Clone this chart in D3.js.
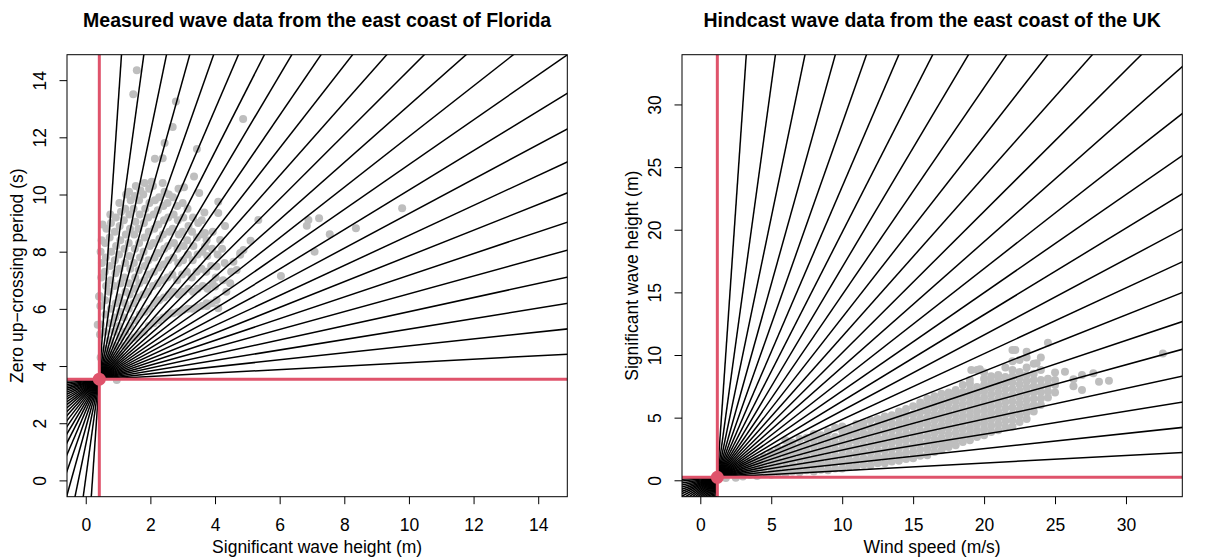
<!DOCTYPE html>
<html>
<head>
<meta charset="utf-8">
<script src="https://cdn.jsdelivr.net/npm/d3@7"></script>
<style>
body{margin:0;background:#fff}
text{font-family:"Liberation Sans",Arial,Helvetica,sans-serif;fill:#000}
</style>
</head>
<body>
<div id="chart"></div>
<script>
// ray directions (degrees, in data units) drawn through each reference point
var rayAngles = [3.46, 6.92, 10.38, 13.85, 17.31, 20.77, 24.23, 27.69, 31.15, 34.62, 38.08, 41.54, 45.0,
                 48.46, 51.92, 55.38, 58.85, 62.31, 65.77, 69.23, 72.69, 76.15, 79.62, 83.08, 86.54];

// Florida: [significant wave height (m), zero up-crossing period (s)]
var floridaPts = [
 [0.46,4.3],[0.44,5.1],[0.47,5.45],[0.45,6.1],[0.43,6.45],[0.48,7.1],[0.5,7.6],[0.46,8.0],[0.52,8.95],[0.49,8.4],[0.41,6.43],[0.37,5.44],
 [0.6,4.0],[0.62,4.6],[0.58,5.2],[0.61,5.8],[0.6,6.3],[0.63,6.8],[0.59,7.3],[0.62,7.8],[0.6,8.3],[0.64,8.8],
 [0.75,3.9],[0.77,4.4],[0.74,4.9],[0.76,5.5],[0.78,6.0],[0.73,6.6],[0.77,7.0],[0.75,7.5],[0.79,8.0],[0.74,8.5],[0.78,9.0],[0.76,9.3],
 [0.9,4.2],[0.92,4.7],[0.88,5.2],[0.91,5.7],[0.93,6.2],[0.89,6.8],[0.92,7.25],[0.9,7.7],[0.94,8.2],[0.9,8.7],[0.93,9.2],[0.96,3.51],
 [1.05,4.4],[1.07,5.0],[1.03,5.4],[1.06,5.9],[1.04,6.4],[1.08,6.9],[1.05,7.4],[1.03,7.9],[1.07,8.4],[1.05,8.9],[1.09,9.4],[1.04,9.7],
 [1.2,4.7],[1.22,5.2],[1.18,5.7],[1.21,6.2],[1.23,6.6],[1.19,7.1],[1.22,7.6],[1.2,8.1],[1.24,8.6],[1.18,9.1],[1.22,9.5],[1.25,10.0],
 [1.35,4.9],[1.37,5.4],[1.33,6.0],[1.36,6.5],[1.34,6.9],[1.38,7.4],[1.35,7.85],[1.33,8.3],[1.37,8.8],[1.35,9.3],[1.39,9.8],[1.34,10.1],
 [1.5,5.0],[1.52,5.6],[1.48,6.2],[1.51,6.7],[1.53,7.1],[1.49,7.6],[1.52,8.1],[1.5,8.6],[1.54,9.05],[1.48,9.5],[1.52,9.95],[1.55,10.3],
 [1.65,5.1],[1.67,5.8],[1.63,6.4],[1.66,6.9],[1.64,7.35],[1.68,7.8],[1.65,8.3],[1.63,8.8],[1.67,9.3],[1.65,9.8],[1.69,10.15],
 [1.8,5.2],[1.82,5.9],[1.78,6.5],[1.81,7.0],[1.83,7.5],[1.79,8.0],[1.82,8.5],[1.8,9.0],[1.84,9.5],[1.78,10.0],[1.82,10.4],
 [1.95,5.4],[1.97,6.0],[1.93,6.6],[1.96,7.2],[1.94,7.7],[1.98,8.2],[1.95,8.7],[1.93,9.2],[1.97,9.7],[1.96,10.2],[2.04,10.45],
 [2.1,5.5],[2.12,6.2],[2.08,6.8],[2.11,7.3],[2.13,7.8],[2.09,8.3],[2.12,8.8],[2.1,9.3],[2.14,9.8],[2.08,10.3],
 [2.25,5.6],[2.27,6.3],[2.23,6.9],[2.26,7.45],[2.24,7.95],[2.28,8.45],[2.25,8.95],[2.23,9.45],[2.27,9.9],
 [2.4,5.7],[2.42,6.4],[2.38,7.0],[2.41,7.55],[2.43,8.1],[2.39,8.6],[2.42,9.1],[2.4,9.6],[2.44,10.1],[2.38,10.4],
 [2.55,5.8],[2.57,6.5],[2.53,7.1],[2.56,7.7],[2.54,8.2],[2.58,8.7],[2.55,9.2],[2.53,9.7],[2.57,10.0],
 [2.7,5.85],[2.72,6.6],[2.68,7.2],[2.71,7.8],[2.73,8.3],[2.69,8.8],[2.72,9.3],[2.7,9.9],
 [2.85,5.9],[2.87,6.5],[2.83,7.0],[2.86,7.6],[2.84,8.1],[2.88,8.6],[2.85,9.1],[2.83,9.6],[2.87,10.2],
 [3.0,5.95],[3.02,6.6],[2.98,7.2],[3.01,7.7],[3.03,8.2],[2.99,8.7],[3.02,9.2],[3.0,9.7],[3.04,10.25],
 [3.15,6.0],[3.17,6.7],[3.13,7.3],[3.16,7.9],[3.14,8.4],[3.18,8.9],[3.15,9.5],
 [3.3,6.0],[3.32,6.6],[3.28,7.1],[3.31,7.7],[3.33,8.2],[3.29,8.7],[3.32,9.2],[3.35,10.63],
 [3.45,6.05],[3.47,6.7],[3.43,7.3],[3.46,7.9],[3.44,8.5],[3.48,9.0],[3.51,10.05],
 [3.6,6.1],[3.62,6.8],[3.58,7.4],[3.61,8.0],[3.63,8.6],[3.59,9.1],[3.67,9.37],
 [3.75,6.1],[3.77,6.7],[3.73,7.3],[3.76,7.85],[3.74,8.4],[3.69,8.65],[3.69,8.18],[3.74,6.2],
 [3.9,6.2],[3.92,6.9],[3.88,7.5],[3.91,8.1],[3.93,8.7],
 [4.05,6.31],[4.1,6.02],[4.0,6.78],[4.05,7.48],[4.16,8.41],[4.1,9.35],[4.1,9.75],[4.02,7.1],[4.08,7.9],
 [4.31,8.9],[4.25,7.0],[4.3,7.6],[4.22,8.1],[4.35,6.6],
 [4.47,6.9],[4.57,7.65],[4.67,7.36],[4.78,7.89],[4.88,8.06],[4.5,7.3],[4.78,7.95],
 [1.58,14.35],[1.47,13.51],[2.79,13.25],[2.69,12.36],[4.87,12.64],[3.44,11.59],[2.14,11.25],[2.38,11.27],[2.44,11.8],
 [5.34,9.11],[5.1,8.38],[6.04,7.15],[9.79,9.52],[7.22,9.17],[6.84,8.91],[6.89,9.11],[7.55,8.61],[8.36,8.82],[7.08,8.0]
];

// UK hindcast: [wind speed (m/s), [significant wave heights (m)]]
var ukCols = [
 [1.8,[0.18]],[2.5,[0.2,0.5]],[3,[0.3,0.8,1.2]],[3.5,[0.45,0.95,1.4]],[4,[0.35,0.85,1.3,1.6]],[4.5,[0.5,1.0,1.5,1.9]],
 [5,[0.45,0.95,1.45,1.95,2.2]],[5.5,[0.6,1.1,1.6,2.1,2.5]],[6,[0.55,1.05,1.55,2.05,2.55,3.2]],
 [6.5,[0.7,1.2,1.7,2.2,2.7,3.0]],[7,[0.65,1.15,1.65,2.15,2.65,3.3]],[7.5,[0.8,1.3,1.8,2.3,2.8,3.4]],
 [8,[0.7,1.2,1.7,2.2,2.7,3.2,3.7]],[8.5,[0.85,1.35,1.85,2.35,2.85,3.35,3.6]],[9,[0.8,1.3,1.8,2.3,2.8,3.3,3.9]],
 [9.5,[0.95,1.45,1.95,2.45,2.95,3.45,4.2]],[10,[0.95,1.45,1.95,2.45,2.95,3.45,3.95,4.3]],
 [10.5,[1.1,1.6,2.1,2.6,3.1,3.6,4.1]],[11,[1.1,1.6,2.1,2.6,3.1,3.6,4.1,4.5]],
 [11.5,[1.25,1.75,2.25,2.75,3.25,3.75,4.25,4.6]],[12,[1.2,1.7,2.2,2.7,3.2,3.7,4.2,4.8]],
 [12.5,[1.35,1.85,2.35,2.85,3.35,3.85,4.35,4.9]],[13,[1.35,1.85,2.35,2.85,3.35,3.85,4.35,4.85,5.1]],
 [13.5,[1.5,2.0,2.5,3.0,3.5,4.0,4.5,5.0,5.2]],[14,[1.55,2.05,2.55,3.05,3.55,4.05,4.55,5.05,5.5]],
 [14.5,[1.7,2.2,2.7,3.2,3.7,4.2,4.7,5.2,5.7]],[15,[1.75,2.25,2.75,3.25,3.75,4.25,4.75,5.25,5.9]],
 [15.5,[1.95,2.45,2.95,3.45,3.95,4.45,4.95,5.45,5.95,6.2]],[16,[2.0,2.5,3.0,3.5,4.0,4.5,5.0,5.5,6.0,6.5]],
 [16.5,[2.25,2.75,3.25,3.75,4.25,4.75,5.25,5.75,6.25,6.7]],[17,[2.4,2.9,3.4,3.9,4.4,4.9,5.4,5.9,6.4,6.9]],
 [17.5,[2.65,3.15,3.65,4.15,4.65,5.15,5.65,6.15,6.65,7.0]],[18,[2.8,3.3,3.8,4.3,4.8,5.3,5.8,6.3,6.8,7.2]],
 [18.5,[3.05,3.55,4.05,4.55,5.05,5.55,6.05,6.55,7.05,7.6]],[19,[3.2,3.7,4.2,4.7,5.2,5.7,6.2,6.7,7.2,7.7,8.0]],
 [19.5,[3.45,3.95,4.45,4.95,5.45,5.95,6.45,6.95,7.45,8.8]],[20,[3.6,4.1,4.6,5.1,5.6,6.1,6.6,7.1,7.6,8.1,8.6]],
 [20.5,[3.85,4.35,4.85,5.35,5.85,6.35,6.85,7.35,7.85,8.3]],[21,[4.0,4.5,5.0,5.5,6.0,6.5,7.0,7.5,8.0,8.4]],
 [21.5,[4.25,4.75,5.25,5.75,6.25,6.75,7.25,7.75,8.25,9.0]],[22,[4.3,4.8,5.3,5.8,6.3,6.8,7.3,7.8,8.3,8.8,9.5,10.4]],
 [22.5,[4.65,5.15,5.65,6.15,6.65,7.15,7.65,8.15,8.65,9.6]],[23,[4.9,5.4,5.9,6.4,6.9,7.4,7.9,8.4,9.0,9.8,10.26]],
 [23.5,[5.5,6.0,6.5,7.0,7.5,8.0,8.5,9.3]],[24,[6.0,6.5,7.0,7.5,8.0,8.8,9.81]],[24.5,[6.6,7.1,7.6,8.1,10.98]],
 [25,[7.0,7.6,8.0,8.6]],[25.7,[8.67]],[26.3,[7.5,8.06]],[26.9,[7.21,8.4]],[27.7,[8.54]],[28.1,[7.87]],[28.8,[7.95]],[32.6,[10.13]],
 [17.1,[2.68]],[17.9,[2.95]],[19.1,[8.8]],[19.7,[8.86]],[22.2,[10.4]],[23.7,[9.34]]
];

var floridaCentre = [0.42, 3.54];
var ukCentre = [1.2, 0.24];
var floridaTicks = [0, 2, 4, 6, 8, 10, 12, 14];
var ukTicks = [0, 5, 10, 15, 20, 25, 30];

var ukPts = [];
ukCols.forEach(function(c){ c[1].forEach(function(v){ ukPts.push([c[0], v]); }); });

var W = 1211, H = 560;
var svg = d3.select('#chart').append('svg').attr('width', W).attr('height', H);

function drawPanel(o){
  var x = d3.scaleLinear().domain(o.xDomain).range([o.left, o.right]);
  var y = d3.scaleLinear().domain(o.yDomain).range([o.bottom, o.top]);

  svg.append('clipPath').attr('id', 'clip-' + o.id)
    .append('rect').attr('x', o.left).attr('y', o.top)
    .attr('width', o.right - o.left).attr('height', o.bottom - o.top);
  var g = svg.append('g').attr('clip-path', 'url(#clip-' + o.id + ')');

  g.selectAll('circle.pt').data(o.points).enter().append('circle')
    .attr('cx', function(d){ return x(d[0]); })
    .attr('cy', function(d){ return y(d[1]); })
    .attr('r', 4).attr('fill', '#bebebe');

  var c = o.centre, L = 200;
  g.selectAll('line.ray').data(rayAngles).enter().append('line')
    .attr('x1', function(a){ return x(c[0] - L*Math.cos(a*Math.PI/180)); })
    .attr('y1', function(a){ return y(c[1] - L*Math.sin(a*Math.PI/180)); })
    .attr('x2', function(a){ return x(c[0] + L*Math.cos(a*Math.PI/180)); })
    .attr('y2', function(a){ return y(c[1] + L*Math.sin(a*Math.PI/180)); })
    .attr('stroke', '#000').attr('stroke-width', 1.5);

  g.append('line').attr('x1', x(c[0])).attr('x2', x(c[0])).attr('y1', o.top).attr('y2', o.bottom)
    .attr('stroke', '#DF536B').attr('stroke-width', 3);
  g.append('line').attr('y1', y(c[1])).attr('y2', y(c[1])).attr('x1', o.left).attr('x2', o.right)
    .attr('stroke', '#DF536B').attr('stroke-width', 3);
  g.append('circle').attr('cx', x(c[0])).attr('cy', y(c[1])).attr('r', 6.5).attr('fill', '#DF536B');

  svg.append('rect').attr('x', o.left).attr('y', o.top)
    .attr('width', o.right - o.left).attr('height', o.bottom - o.top)
    .attr('fill', 'none').attr('stroke', '#000').attr('stroke-width', 1);

  var xa = svg.append('g').attr('transform', 'translate(0,' + o.bottom + ')')
    .call(d3.axisBottom(x).tickValues(o.ticks).tickSize(7.5).tickPadding(14.5).tickFormat(d3.format('d')));
  xa.select('.domain').remove();
  xa.selectAll('text').attr('font-size', 17.5).style('font-family', null);

  var ya = svg.append('g').attr('transform', 'translate(' + o.left + ',0)')
    .call(d3.axisLeft(y).tickValues(o.ticks).tickSize(7.5).tickFormat(d3.format('d')));
  ya.select('.domain').remove();
  ya.selectAll('text').attr('x', null).attr('dy', '0.35em').attr('text-anchor', 'middle')
    .attr('transform', 'translate(-27,0) rotate(-90)').attr('font-size', 17.5).style('font-family', null);
  svg.selectAll('.tick line').attr('stroke', '#000');

  var mid = (o.left + o.right) / 2;
  svg.append('text').attr('x', mid).attr('y', 553).attr('text-anchor', 'middle')
    .attr('font-size', 17.5).text(o.xLabel);
  svg.append('text').attr('transform', 'translate(' + (o.left - 50) + ',' + ((o.top + o.bottom) / 2) + ') rotate(-90)')
    .attr('dy', '0.35em').attr('text-anchor', 'middle').attr('font-size', 17.5).text(o.yLabel);
  svg.append('text').attr('x', mid).attr('y', 27).attr('text-anchor', 'middle')
    .attr('font-size', 19.5).attr('font-weight', 'bold').text(o.title);
}

drawPanel({
  id: 'fl', left: 67, right: 567.3, top: 54.7, bottom: 496.7,
  xDomain: [-0.58, 14.9], yDomain: [-0.57, 14.89],
  points: floridaPts, centre: floridaCentre, ticks: floridaTicks,
  title: 'Measured wave data from the east coast of Florida',
  xLabel: 'Significant wave height (m)', yLabel: 'Zero up\u2212crossing period (s)'
});
drawPanel({
  id: 'uk', left: 682, right: 1182.3, top: 54.7, bottom: 496.7,
  xDomain: [-1.29, 33.97], yDomain: [-1.31, 33.97],
  points: ukPts, centre: ukCentre, ticks: ukTicks,
  title: 'Hindcast wave data from the east coast of the UK',
  xLabel: 'Wind speed (m/s)', yLabel: 'Significant wave height (m)'
});
</script>
</body>
</html>
